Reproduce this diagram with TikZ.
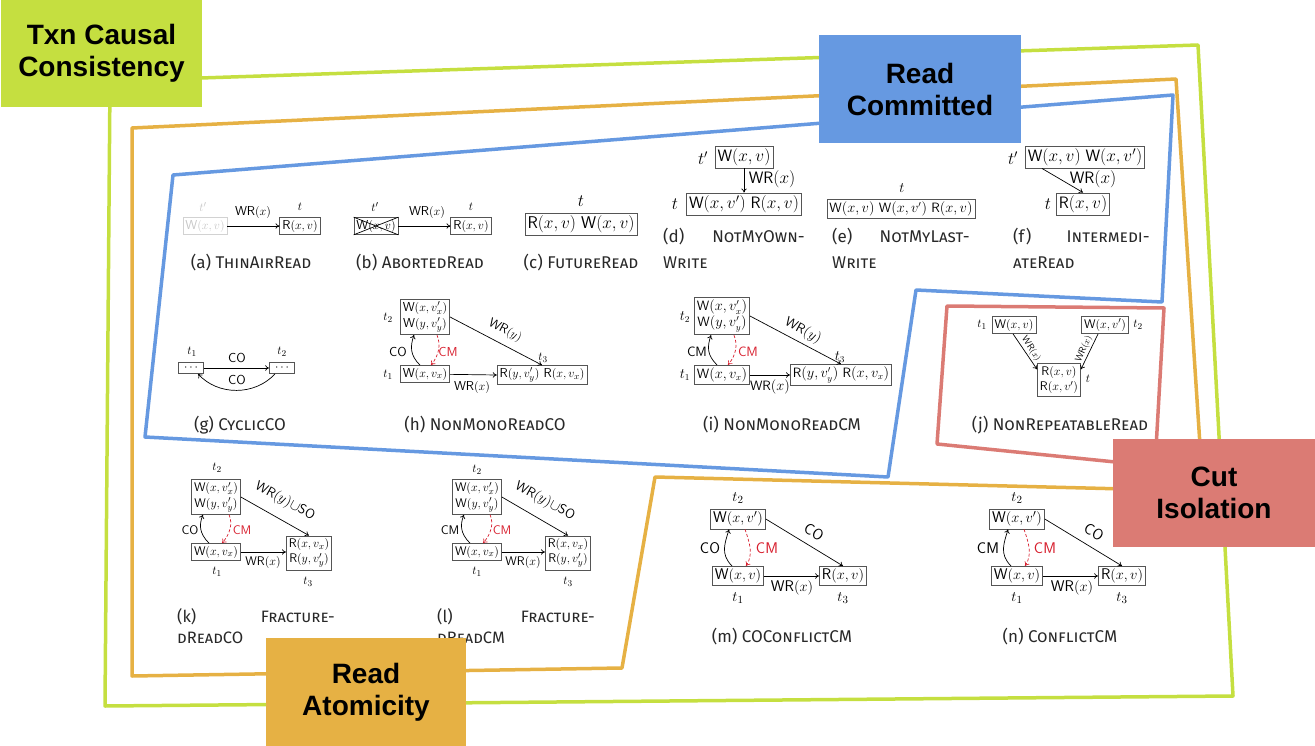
\documentclass[tikz,border=0pt]{standalone}
\usepackage{fontspec}
\newfontfamily\tagfont{Liberation Sans}
\newfontfamily\capfont{Fira Sans}
\usetikzlibrary{arrows.meta}
\definecolor{cgreen}{RGB}{197,223,64}
\definecolor{corange}{RGB}{230,177,68}
\definecolor{cblue}{RGB}{102,153,225}
\definecolor{cred}{RGB}{219,123,116}
\definecolor{cmred}{RGB}{215,30,45}
\definecolor{boxgray}{RGB}{85,85,85}
\definecolor{captgray}{RGB}{40,40,40}
\newcommand\opW[1]{\textsf{W}$(#1)$}
\newcommand\opR[1]{\textsf{R}$(#1)$}
\newcommand\rel[1]{\textsf{#1}}
\begin{document}
\begin{tikzpicture}[x=1pt,y=-1pt,
  op/.style={draw=boxgray, line width=0.7pt, inner xsep=2.5pt, inner ysep=2.5pt},
  lbl/.style={inner sep=0.5pt},
  arr/.style={-{To[length=4pt,width=5.5pt]}, line width=0.7pt},
  cmarr/.style={arr, cmred, dash pattern=on 3pt off 2pt},
  cmlbl/.style={lbl, text=cmred},
  region/.style={line width=3.5pt, line join=round},
  tagbox/.style={font=\tagfont\bfseries\fontsize{28}{32}\selectfont, align=center, inner sep=0pt, minimum width=202, minimum height=108},
  capt/.style={font=\capfont\fontsize{#1}{#1}\selectfont, text=captgray, inner sep=0pt},
  capt/.default=17
]
\useasboundingbox (0,0) rectangle (1315,746);

% regions
\draw[region, cgreen] (110,81) -- (1198,45) -- (1233,696) -- (105,706) -- cycle;
\draw[region, corange] (132,128) -- (1176,79) -- (1203,491) -- (655,477) -- (622,668) -- (132,676) -- cycle;
\draw[region, cblue] (173,175) -- (1173,95) -- (1162,302) -- (916,290) -- (888,477) -- (145,437) -- cycle;
\draw[region, cred] (947,306) -- (1164,308) -- (1155,466) -- (937,444) -- cycle;

% (a)
\begin{scope}[every node/.append style={font=\fontsize{13}{16}\selectfont}]
\node[op, draw=gray!35, text=gray!45] (a1) at (205,226) {\opW{x,v}};
\node[lbl, text=gray!45] (a1t) at (203,207) {$t'$};
\node[op] (a2) at (300,226) {\opR{x,v}};
\node[lbl] (a2t) at (300,207) {$t$};
\draw[arr] (a1) -- (a2);
\node[lbl] (a3) at (253,212) {\rel{WR}$(x)$};
\end{scope}
\node[capt] (capa) at (251,263) {(a) \textsc{ThinAirRead}};

% (b)
\begin{scope}[every node/.append style={font=\fontsize{13}{16}\selectfont}]
\node[op] (b1) at (376,226) {\opW{x,v}};
\draw[line width=0.7pt] (b1.north west) -- (b1.south east) (b1.south west) -- (b1.north east);
\node[lbl] (b1t) at (375,207) {$t'$};
\node[op] (b2) at (471,226) {\opR{x,v}};
\node[lbl] (b2t) at (471,207) {$t$};
\draw[arr] (b1) -- (b2);
\node[lbl] (b3) at (427,212) {\rel{WR}$(x)$};
\end{scope}
\node[capt] (capb) at (420,263) {(b) \textsc{AbortedRead}};

% (c)
\begin{scope}[every node/.append style={font=\fontsize{17}{20}\selectfont}]
\node[op] (c1) at (581,224) {\opR{x,v} \opW{x,v}};
\node[lbl] (c1t) at (581,201) {$t$};
\end{scope}
\node[capt] (capc) at (581,263) {(c) \textsc{FutureRead}};

% (d)
\begin{scope}[every node/.append style={font=\fontsize{16.5}{20}\selectfont}]
\node[op] (d1) at (744,157) {\opW{x,v}};
\node[lbl] (d1t) at (703,158) {$t'$};
\node[op] (d2) at (744,204) {\opW{x,v'} \opR{x,v}};
\node[lbl] (d2t) at (675,204) {$t$};
\draw[arr] (d1) -- (d2);
\node[lbl] (d3) at (772,179) {\rel{WR}$(x)$};
\end{scope}
\node[capt, anchor=west] (capd1) at (663,237) {(d)};
\node[capt, anchor=east] (capd2) at (805,237) {\textsc{NotMyOwn-}};
\node[capt, anchor=west] (capd3) at (663,263) {\textsc{Write}};

% (e)
\begin{scope}[every node/.append style={font=\fontsize{13.5}{16}\selectfont}]
\node[op] (e1) at (901,209) {\opW{x,v} \opW{x,v'} \opR{x,v}};
\node[lbl] (e1t) at (902,188) {$t$};
\end{scope}
\node[capt, anchor=west] (cape1) at (832,237) {(e)};
\node[capt, anchor=east] (cape2) at (970,237) {\textsc{NotMyLast-}};
\node[capt, anchor=west] (cape3) at (832,263) {\textsc{Write}};

% (f)
\begin{scope}[every node/.append style={font=\fontsize{16.5}{20}\selectfont}]
\node[op] (f1) at (1085,157) {\opW{x,v} \opW{x,v'}};
\node[lbl] (f1t) at (1013,158) {$t'$};
\node[op] (f2) at (1083,204) {\opR{x,v}};
\node[lbl] (f2t) at (1048,204) {$t$};
\draw[arr] ([xshift=-43pt]f1.south) -- (f2.north);
\node[lbl] (f3) at (1093,179) {\rel{WR}$(x)$};
\end{scope}
\node[capt, anchor=west] (capf1) at (1013,237) {(f)};
\node[capt, anchor=east] (capf2) at (1150,237) {\textsc{Intermedi-}};
\node[capt, anchor=west] (capf3) at (1013,263) {\textsc{ateRead}};

% (g)
\begin{scope}[every node/.append style={font=\fontsize{13}{16}\selectfont}]
\node[op, inner sep=1pt, minimum width=25, minimum height=11] (g1) at (191,368) {$\cdots$};
\node[op, inner sep=1pt, minimum width=25, minimum height=11] (g2) at (282,368) {$\cdots$};
\node[lbl] (g1t) at (192,352) {$t_1$};
\node[lbl] (g2t) at (282,352) {$t_2$};
\draw[arr] (g1) -- (g2);
\draw[arr] ([xshift=-7pt]g2.south) .. controls +(-20,22) and +(20,22) .. ([xshift=7pt]g1.south);
\node[lbl] (g3) at (237,358) {\rel{CO}};
\node[lbl] (g4) at (237,380) {\rel{CO}};
\end{scope}
\node[capt] (capg) at (240,425) {(g) \textsc{CyclicCO}};

% (h)
\begin{scope}[every node/.append style={font=\fontsize{13}{16}\selectfont}]
\node[op, align=center] (h2) at (425,317) {\opW{x,v'_x}\\\opW{y,v'_y}};
\node[op] (h1) at (425,374) {\opW{x,v_x}};
\node[op] (h3) at (542,375) {\opR{y,v'_y} \opR{x,v_x}};
\node[lbl] (h2t) at (388,318) {$t_2$};
\node[lbl] (h1t) at (388,375) {$t_1$};
\node[lbl] (h3t) at (543,358) {$t_3$};
\draw[arr] (h1) -- (h3.west);
\draw[arr] (h2.east) -- (h3.north);
\draw[arr] ([xshift=-5pt]h1.north) .. controls +(-10,-10) and +(-4,12) .. ([xshift=-11pt]h2.south);
\draw[cmarr] ([xshift=12pt]h2.south) .. controls +(4,10) and +(8,-10) .. ([xshift=6pt]h1.north);
\node[lbl] (h4) at (472,387) {\rel{WR}$(x)$};
\node[lbl, rotate=-27.6] (h5) at (505,331) {\rel{WR}$(y)$};
\node[lbl] (h6) at (398,352) {\rel{CO}};
\node[cmlbl] (h7) at (448,352) {\rel{CM}};
\end{scope}
\node[capt] (caph) at (485,425) {(h) \textsc{NonMonoReadCO}};

% (i)
\begin{scope}[every node/.append style={font=\fontsize{13.5}{16.5}\selectfont}]
\node[op, align=center] (i2) at (722,316) {\opW{x,v'_x}\\\opW{y,v'_y}};
\node[op] (i1) at (722,375) {\opW{x,v_x}};
\node[op] (i3) at (841,375) {\opR{y,v'_y} \opR{x,v_x}};
\node[lbl] (i2t) at (685,317) {$t_2$};
\node[lbl] (i1t) at (685,375) {$t_1$};
\node[lbl] (i3t) at (840,357) {$t_3$};
\draw[arr] (i1) -- (i3.west);
\draw[arr] (i2.east) -- (i3.north);
\draw[arr] ([xshift=-5pt]i1.north) .. controls +(-10,-10) and +(-4,12) .. ([xshift=-11pt]i2.south);
\draw[cmarr] ([xshift=12pt]i2.south) .. controls +(4,10) and +(8,-10) .. ([xshift=6pt]i1.north);
\node[lbl] (i4) at (770,387) {\rel{WR}$(x)$};
\node[lbl, rotate=-28.3] (i5) at (803,331) {\rel{WR}$(y)$};
\node[lbl] (i6) at (697,352) {\rel{CM}};
\node[cmlbl] (i7) at (748,352) {\rel{CM}};
\end{scope}
\node[capt] (capi) at (782,425) {(i) \textsc{NonMonoReadCM}};

% (j)
\begin{scope}[every node/.append style={font=\fontsize{12.5}{15.5}\selectfont}]
\node[op] (j1) at (1014,325) {\opW{x,v}};
\node[op] (j2) at (1105,325) {\opW{x,v'}};
\node[op, align=center] (j3) at (1059,380) {\opR{x,v}\\\opR{x,v'}};
\node[lbl] (j1t) at (982,325) {$t_1$};
\node[lbl] (j2t) at (1138,325) {$t_2$};
\node[lbl] (j3t) at (1088,379) {$t$};
\draw[arr] ([xshift=-1pt]j1.south) -- ([yshift=-6pt]j3.north west);
\draw[arr] ([xshift=-7pt]j2.south) -- ([yshift=-6pt]j3.north east);
\node[lbl, rotate=-57, font=\fontsize{9.5}{11}\selectfont] (j4) at (1031,349) {\rel{WR}$(x)$};
\node[lbl, rotate=66.6, font=\fontsize{9.5}{11}\selectfont] (j5) at (1084,349) {\rel{WR}$(x)$};
\end{scope}
\node[capt] (capj) at (1060,425) {(j) \textsc{NonRepeatableRead}};

% (k)
\begin{scope}[every node/.append style={font=\fontsize{12.5}{15.5}\selectfont}]
\node[op, align=center] (k2) at (216,497) {\opW{x,v'_x}\\\opW{y,v'_y}};
\node[op] (k1) at (216,552) {\opW{x,v_x}};
\node[op, align=center] (k3) at (309,553) {\opR{x,v_x}\\\opR{y,v'_y}};
\node[lbl] (k2t) at (217,468) {$t_2$};
\node[lbl] (k1t) at (217,572) {$t_1$};
\node[lbl] (k3t) at (308,582) {$t_3$};
\draw[arr] (k1.east) -- (k1.east -| k3.west);
\draw[arr] (k2.east) -- (k3.north);
\draw[arr] ([xshift=-7pt]k1.north) .. controls +(-10,-10) and +(-4,10) .. ([xshift=-13pt]k2.south);
\draw[cmarr] ([xshift=13pt]k2.south) .. controls +(4,9) and +(8,-9) .. ([xshift=6pt]k1.north);
\node[lbl] (k4) at (263,562) {\rel{WR}$(x)$};
\node[lbl, rotate=-29, font=\fontsize{13.5}{16}\selectfont] (k5) at (285,501) {\rel{WR}$(y)\cup$\rel{SO}};
\node[lbl] (k6) at (190,530) {\rel{CO}};
\node[cmlbl] (k7) at (242,530) {\rel{CM}};
\end{scope}
\node[capt=16.5, anchor=west] (capk1) at (177,617) {(k)};
\node[capt=16.5, anchor=east] (capk2) at (335,617) {\textsc{Fracture-}};
\node[capt=16.5, anchor=west] (capk3) at (177,638) {\textsc{dReadCO}};

% (l)
\begin{scope}[every node/.append style={font=\fontsize{12.5}{15.5}\selectfont}]
\node[op, align=center] (l2) at (477,497) {\opW{x,v'_x}\\\opW{y,v'_y}};
\node[op] (l1) at (477,552) {\opW{x,v_x}};
\node[op, align=center] (l3) at (568,553) {\opR{x,v_x}\\\opR{y,v'_y}};
\node[lbl] (l2t) at (477,470) {$t_2$};
\node[lbl] (l1t) at (477,572) {$t_1$};
\node[lbl] (l3t) at (568,582) {$t_3$};
\draw[arr] (l1.east) -- (l1.east -| l3.west);
\draw[arr] (l2.east) -- (l3.north);
\draw[arr] ([xshift=-7pt]l1.north) .. controls +(-10,-10) and +(-4,10) .. ([xshift=-13pt]l2.south);
\draw[cmarr] ([xshift=13pt]l2.south) .. controls +(4,9) and +(8,-9) .. ([xshift=6pt]l1.north);
\node[lbl] (l4) at (523,562) {\rel{WR}$(x)$};
\node[lbl, rotate=-29, font=\fontsize{13.5}{16}\selectfont] (l5) at (545,501) {\rel{WR}$(y)\cup$\rel{SO}};
\node[lbl] (l6) at (450,530) {\rel{CM}};
\node[cmlbl] (l7) at (502,530) {\rel{CM}};
\end{scope}
\node[capt=16.5, anchor=west] (capl1) at (437,617) {(l)};
\node[capt=16.5, anchor=east] (capl2) at (595,617) {\textsc{Fracture-}};
\node[capt=16.5, anchor=west] (capl3) at (437,638) {\textsc{dReadCM}};

% (m)
\begin{scope}[every node/.append style={font=\fontsize{15.5}{19}\selectfont}]
\node[op] (m2) at (738,519) {\opW{x,v'}};
\node[op] (m1) at (738,576) {\opW{x,v}};
\node[op] (m3) at (843,576) {\opR{x,v}};
\node[lbl] (m2t) at (738,498) {$t_2$};
\node[lbl] (m1t) at (738,598) {$t_1$};
\node[lbl] (m3t) at (843,598) {$t_3$};
\draw[arr] (m1) -- (m3);
\draw[arr] (m2.east) -- (m3.north);
\draw[arr] ([xshift=-6pt]m1.north) .. controls +(-12,-12) and +(-4,14) .. ([xshift=-9pt]m2.south);
\draw[cmarr] ([xshift=7pt]m2.south) .. controls +(4,12) and +(8,-12) .. ([xshift=8pt]m1.north);
\node[lbl] (m4) at (792,588) {\rel{WR}$(x)$};
\node[lbl, rotate=-30] (m5) at (814,532) {\rel{CO}};
\node[lbl] (m6) at (710,548) {\rel{CO}};
\node[cmlbl] (m7) at (767,548) {\rel{CM}};
\end{scope}
\node[capt] (capm) at (782,637) {(m) \textsc{COConflictCM}};

% (n)
\begin{scope}[every node/.append style={font=\fontsize{15.5}{19}\selectfont}]
\node[op] (n2) at (1017,519) {\opW{x,v'}};
\node[op] (n1) at (1017,576) {\opW{x,v}};
\node[op] (n3) at (1122,576) {\opR{x,v}};
\node[lbl] (n2t) at (1017,498) {$t_2$};
\node[lbl] (n1t) at (1017,598) {$t_1$};
\node[lbl] (n3t) at (1122,598) {$t_3$};
\draw[arr] (n1) -- (n3);
\draw[arr] (n2.east) -- (n3.north);
\draw[arr] ([xshift=-6pt]n1.north) .. controls +(-12,-12) and +(-4,14) .. ([xshift=-9pt]n2.south);
\draw[cmarr] ([xshift=7pt]n2.south) .. controls +(4,12) and +(8,-12) .. ([xshift=8pt]n1.north);
\node[lbl] (n4) at (1072,588) {\rel{WR}$(x)$};
\node[lbl, rotate=-30] (n5) at (1094,532) {\rel{CO}};
\node[lbl] (n6) at (988,548) {\rel{CM}};
\node[cmlbl] (n7) at (1045,548) {\rel{CM}};
\end{scope}
\node[capt] (capn) at (1060,637) {(n) \textsc{ConflictCM}};

% tags
\node[tagbox, fill=cgreen, minimum width=201, minimum height=107] (tcc) at (101.5,53.5) {Txn Causal\\Consistency};
\node[tagbox, fill=cblue] (trc) at (920,89) {Read\\Committed};
\node[tagbox, fill=cred] (tci) at (1214,493) {Cut\\Isolation};
\node[tagbox, fill=corange, minimum width=200] (tra) at (366,692) {Read\\Atomicity};
\end{tikzpicture}
\end{document}
